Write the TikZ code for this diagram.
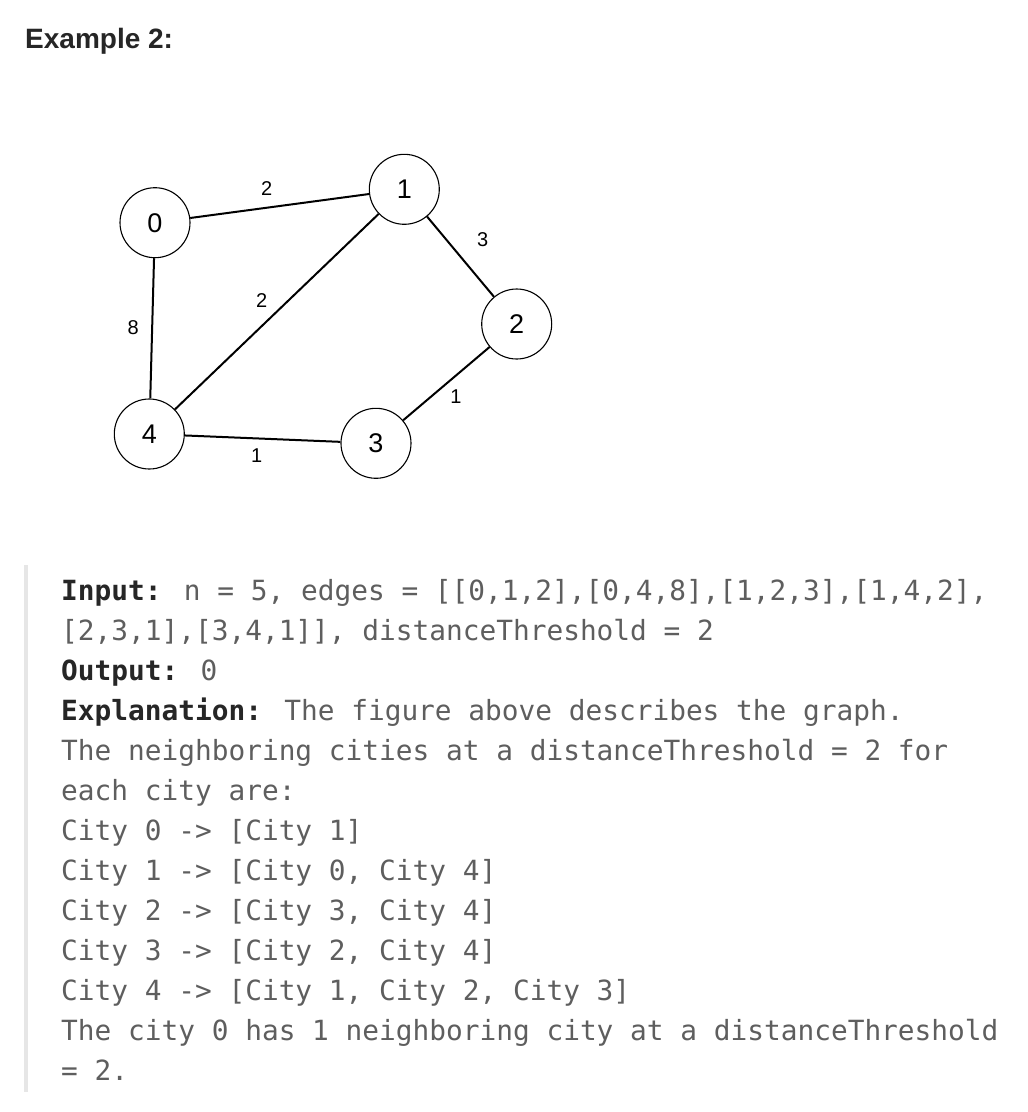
\documentclass[tikz,border=0pt]{standalone}
\usepackage{fontspec}
\setmainfont{Liberation Sans}
\newfontfamily\codefont{DejaVu Sans Mono}
\definecolor{dark}{HTML}{262626}
\definecolor{codegray}{HTML}{5E5E5E}
\definecolor{barcol}{HTML}{E6E6E6}
\tikzset{
  city/.style={circle,draw=black,line width=1.1pt,minimum size=70pt,inner sep=0pt,
    font=\fontsize{27}{30}\selectfont,fill=white},
  wedge/.style={line width=2pt,black},
  wlabel/.style={font=\fontsize{20}{24}\selectfont,inner sep=0pt},
  codeline/.style={anchor=base west,inner sep=0pt,text=codegray,
    font=\codefont\fontsize{27.8}{32}\selectfont}
}
\newcommand{\ck}[1]{{\bfseries\color{dark}#1}}
\begin{document}
\begin{tikzpicture}[x=1pt,y=-1pt]
\useasboundingbox (0,0) rectangle (1028,1112);
\fill[white] (0,0) rectangle (1028,1112);
% title
\node[anchor=base west,inner sep=0pt,text=dark,font=\bfseries\fontsize{28}{32}\selectfont] (title) at (25,48) {Example 2:};
% graph
\node[city] (n0) at (155,222.7) {0};
\node[city] (n1) at (404.3,189.3) {1};
\node[city] (n2) at (516.7,324) {2};
\node[city] (n3) at (376,443.3) {3};
\node[city] (n4) at (149.3,434) {4};
\draw[wedge] (n0) -- (n1);
\draw[wedge] (n0) -- (n4);
\draw[wedge] (n1) -- (n2);
\draw[wedge] (n1) -- (n4);
\draw[wedge] (n2) -- (n3);
\draw[wedge] (n4) -- (n3);
\node[wlabel] (l01) at (266.7,189) {2};
\node[wlabel] (l12) at (482.7,239.3) {3};
\node[wlabel] (l14) at (261.7,300.7) {2};
\node[wlabel] (l04) at (133.3,327.3) {8};
\node[wlabel] (l23) at (456,396.7) {1};
\node[wlabel] (l43) at (256.7,456) {1};
% quote bar
\fill[barcol] (24,565) rectangle (27.5,1092);
% code text
\node[codeline] (t1) at (61,600) {\ck{Input:} n = 5, edges = [[0,1,2],[0,4,8],[1,2,3],[1,4,2],};
\node[codeline] (t2) at (61,640) {[2,3,1],[3,4,1]], distanceThreshold = 2};
\node[codeline] (t3) at (61,680) {\ck{Output:} 0};
\node[codeline] (t4) at (61,720) {\ck{Explanation:} The figure above describes the graph.};
\node[codeline] (t5) at (61,760) {The neighboring cities at a distanceThreshold = 2 for};
\node[codeline] (t6) at (61,800) {each city are:};
\node[codeline] (t7) at (61,840) {City 0 -> [City 1]};
\node[codeline] (t8) at (61,880) {City 1 -> [City 0, City 4]};
\node[codeline] (t9) at (61,920) {City 2 -> [City 3, City 4]};
\node[codeline] (t10) at (61,960) {City 3 -> [City 2, City 4]};
\node[codeline] (t11) at (61,1000) {City 4 -> [City 1, City 2, City 3]};
\node[codeline] (t12) at (61,1040) {The city 0 has 1 neighboring city at a distanceThreshold};
\node[codeline] (t13) at (61,1080) {= 2.};
\end{tikzpicture}
\end{document}
